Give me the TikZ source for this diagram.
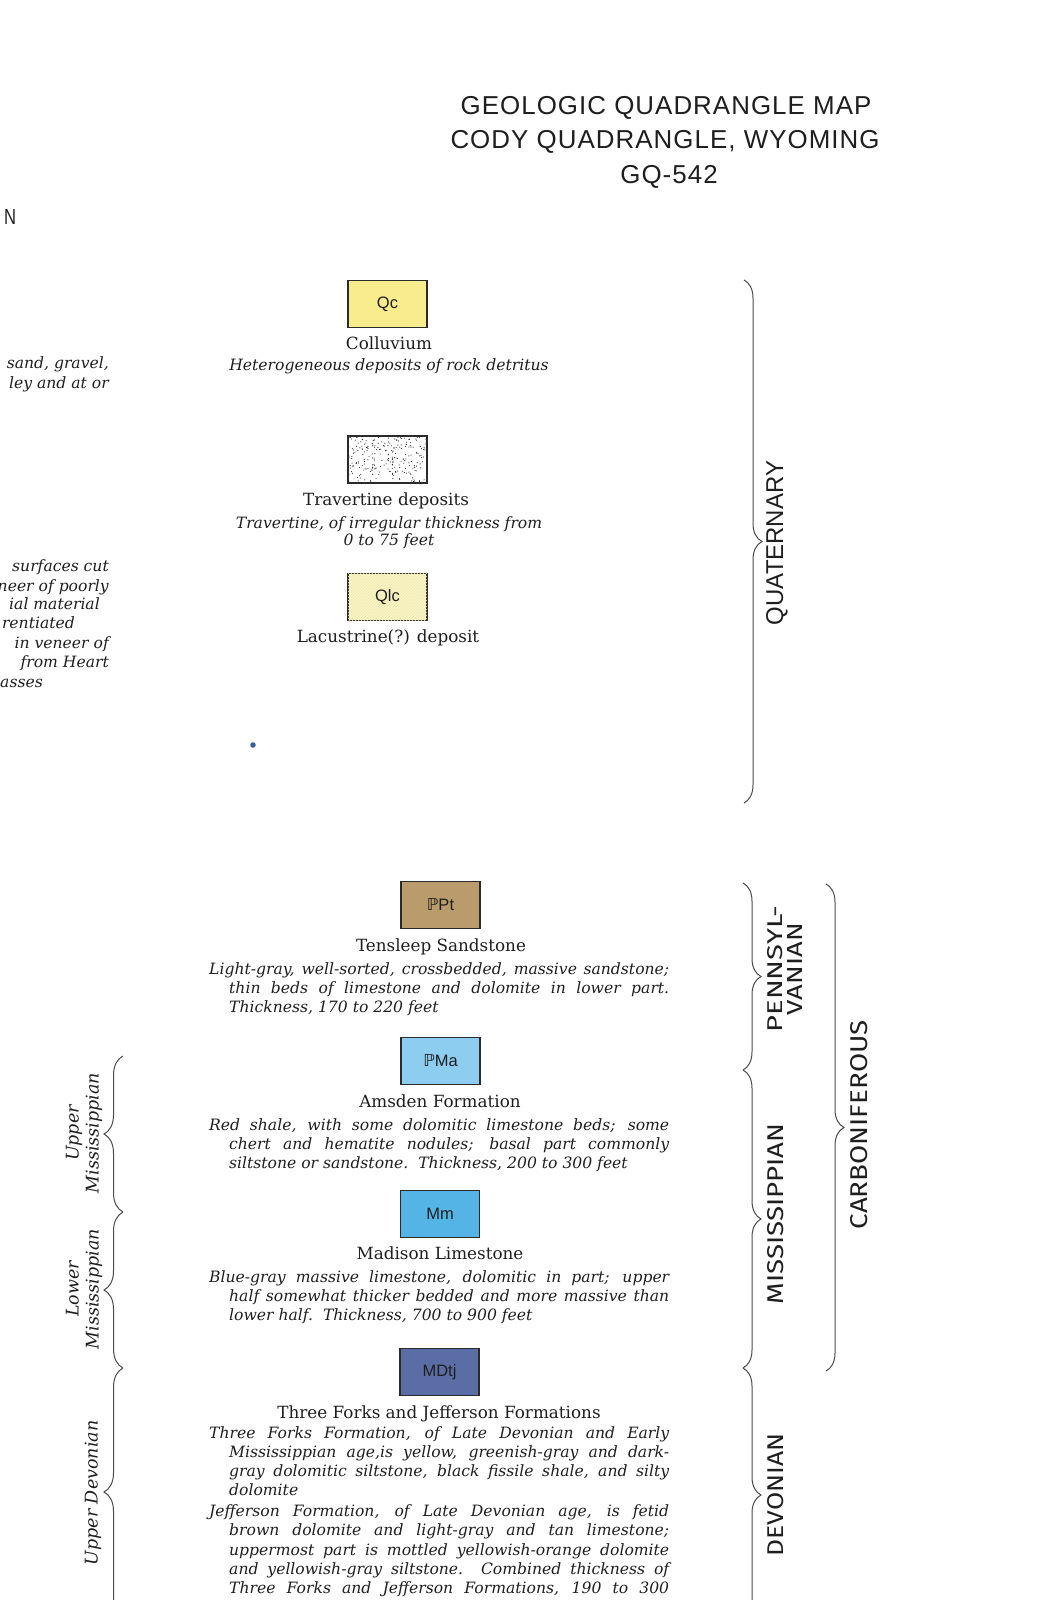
\documentclass[tikz,border=0pt]{standalone}
\usepackage{fontspec}
\setmainfont{DejaVu Serif}
\newfontfamily\lsans{Liberation Sans}
\newfontfamily\titlefont{Liberation Sans}[LetterSpace=4]
\newfontfamily\dinfont{Fira Sans}
\newfontfamily\djsans{DejaVu Sans}
\usetikzlibrary{decorations.pathreplacing,patterns}
\definecolor{ink}{HTML}{1E1E1E}
\definecolor{boxline}{HTML}{2A2A2A}
\definecolor{bracecol}{HTML}{4A4A4A}
\definecolor{qcfill}{HTML}{F8EC8C}
\definecolor{qlcfill}{HTML}{FAF6C6}
\definecolor{qlchatch}{HTML}{F0E7AE}
\definecolor{ptfill}{HTML}{BA9C6C}
\definecolor{pmafill}{HTML}{8CCDF0}
\definecolor{mmfill}{HTML}{55B4E6}
\definecolor{mdtjfill}{HTML}{5A6EA5}
\definecolor{speck}{HTML}{3A5FA0}
\tolerance=9999
\hyphenpenalty=10000
\exhyphenpenalty=10000
\newcommand{\hng}{\parindent=0pt\hangindent=20pt\hangafter=1\relax\strut}
\begin{document}
\begin{tikzpicture}[x=1pt,y=-1pt,
  unitbox/.style={draw=boxline, line width=1.1pt, minimum width=79pt, minimum height=47pt,
    inner sep=0pt, text=ink, font=\lsans\fontsize{16.5}{16.5}\selectfont},
  heading/.style={inner sep=0pt, anchor=base, text=ink, font=\fontsize{16.8}{20}\selectfont},
  desc/.style={inner sep=0pt, anchor=north west, text width=460pt, align=justify, text=ink,
    font=\itshape\fontsize{15.6}{19.2}\selectfont},
  cdesc/.style={inner sep=0pt, text=ink, font=\itshape\fontsize{15.6}{17.4}\selectfont},
  cutline/.style={inner sep=0pt, anchor=base east, text=ink, font=\itshape\fontsize{15.6}{17.4}\selectfont},
  titleline/.style={inner sep=0pt, anchor=base, text=ink, font=\titlefont\fontsize{25.9}{30}\selectfont},
  agelabel/.style={inner sep=0pt, rotate=90, text=ink, align=center, font=\itshape\fontsize{17.5}{20}\selectfont},
  perlabel/.style={inner sep=0pt, rotate=90, text=ink},
  rbrace/.style={draw=bracecol, line width=1pt, decorate, decoration={brace, amplitude=18pt}},
  lbrace/.style={draw=bracecol, line width=1pt, decorate, decoration={brace, amplitude=19pt}}
]
\useasboundingbox (0,0) rectangle (1037,1600);

% title
\node[titleline] (t1) at (666,115) {GEOLOGIC QUADRANGLE MAP};
\node[titleline] (t2) at (665,149) {CODY QUADRANGLE, WYOMING};
\node[titleline] (t3) at (669,183) {GQ-542};
\node[inner sep=0pt, anchor=south west, text=ink] (tn) at (4,225) {\resizebox{12pt}{15pt}{\lsans N}};

% cut-off text at left edge
\node[cutline] (c1) at (109,368) {sand, gravel,};
\node[cutline] (c2) at (109,388) {ley and at or};
\node[cutline] (c3) at (109,571) {surfaces cut};
\node[cutline] (c4) at (109,591) {neer of poorly};
\node[cutline] (c5) at (100,609) {ial material};
\node[cutline] (c6) at (75,628) {rentiated};
\node[cutline] (c7) at (109,648) {in veneer of};
\node[cutline] (c8) at (109,667) {from Heart};
\node[cutline] (c9) at (43,687) {asses};

% Quaternary units
\node[unitbox, fill=qcfill] (qc) at (387.5,304) {Qc};
\node[heading] (qch) at (389,349) {Colluvium};
\node[cdesc, anchor=base] (qcd) at (389,370) {Heterogeneous deposits of rock detritus};

\node[unitbox, fill=white] (qt) at (387.5,459.5) {};
\begin{scope}
  \clip (349.5,437.5) rectangle (425.5,481.5);
  \pgfmathsetseed{11}
  \foreach \i in {1,...,240}{
    \pgfmathsetmacro\dx{349+77*rnd}
    \pgfmathsetmacro\dy{437+45*rnd}
    \fill[ink] (\dx,\dy) circle (0.55);
  }
\end{scope}
\node[heading] (qth) at (386,505) {Travertine deposits};
\node[cdesc, anchor=north, align=center] (qtd) at (389,515.8) {\strut Travertine, of irregular thickness from\\0 to 75 feet};

\node[unitbox, fill=qlcfill, postaction={pattern=north east lines, pattern color=qlchatch}] (qlc) at (387.5,597) {};
\node[inner sep=0pt, text=ink, font=\lsans\fontsize{16.5}{16.5}\selectfont] (qlct) at (qlc.center) {Qlc};
\node[heading] (qlch) at (388,642) {Lacustrine(?) deposit};

\fill[speck] (253,745) circle (2.8);

% Paleozoic units
\node[unitbox, fill=ptfill] (pt) at (440.5,905) {{\djsans ℙ}Pt};
\node[heading] (pth) at (441,951) {Tensleep Sandstone};
\node[desc] (ptd) at (209,960.56) {\hng Light-gray, well-sorted, crossbedded, massive sandstone;\linebreak thin beds of limestone and dolomite in lower part.\linebreak Thickness, 170 to 220 feet\par};

\node[unitbox, fill=pmafill] (pma) at (440.5,1061) {{\djsans ℙ}Ma};
\node[heading] (pmah) at (440,1107) {Amsden Formation};
\node[desc] (pmad) at (209,1116.56) {\hng Red shale, with some dolomitic limestone beds; some\linebreak chert and hematite nodules; basal part commonly\linebreak siltstone or sandstone.\ \ Thickness, 200 to 300 feet\par};

\node[unitbox, fill=mmfill] (mm) at (440,1214) {Mm};
\node[heading] (mmh) at (440,1259) {Madison Limestone};
\node[desc] (mmd) at (209,1268.56) {\hng Blue-gray massive limestone, dolomitic in part; upper\linebreak half somewhat thicker bedded and more massive than\linebreak lower half.\ \ Thickness, 700 to 900 feet\par};

\node[unitbox, fill=mdtjfill] (mdtj) at (439.5,1372) {MDtj};
\node[heading] (mdtjh) at (439,1418) {Three Forks and Jefferson Formations};
\node[desc] (mdtjd) at (209,1424.56) {\hng Three Forks Formation, of Late Devonian and Early\linebreak Mississippian age,is yellow, greenish-gray and dark-\linebreak gray dolomitic siltstone, black fissile shale, and silty\linebreak dolomite\par\vspace{1.6pt}\hng Jefferson Formation, of Late Devonian age, is fetid\linebreak brown dolomite and light-gray and tan limestone;\linebreak uppermost part is mottled yellowish-orange dolomite\linebreak and yellowish-gray siltstone.\ \ Combined thickness of\linebreak Three Forks and Jefferson Formations, 190 to 300\parfillskip=0pt\par};

% right-hand braces (systems)
\coordinate (qa) at (744,280);   \coordinate (qb) at (744,803);
\coordinate (pa) at (743,883);   \coordinate (pb) at (743,1070);
\coordinate (ma) at (743,1070);  \coordinate (mb) at (743,1368);
\coordinate (da) at (743,1368);  \coordinate (db) at (743,1622);
\coordinate (ca) at (826,884);   \coordinate (cb) at (826,1371);
\draw[rbrace] (qa) -- (qb);
\draw[rbrace] (pa) -- (pb);
\draw[rbrace] (ma) -- (mb);
\draw[rbrace] (da) -- (db);
\draw[rbrace] (ca) -- (cb);
\node[perlabel] (lq) at (777,543) {\resizebox{164pt}{17pt}{\lsans QUATERNARY}};
\node[perlabel, align=center, font=\dinfont\fontsize{20}{20}\selectfont] (lp) at (784.5,969) {\resizebox{127pt}{15pt}{PENNSYL-}\\\resizebox{92pt}{15pt}{VANIAN}};
\node[perlabel] (lm) at (776,1214) {\resizebox{181pt}{16pt}{\dinfont MISSISSIPPIAN}};
\node[perlabel] (ld) at (776,1495) {\resizebox{123pt}{16pt}{\dinfont DEVONIAN}};
\node[perlabel] (lc) at (859,1125) {\resizebox{209pt}{17pt}{\dinfont CARBONIFEROUS}};

% left-hand braces (series)
\coordinate (ua) at (123,1212);  \coordinate (ub) at (123,1056);
\coordinate (la) at (123,1368);  \coordinate (lb) at (123,1212);
\coordinate (va) at (123,1616);  \coordinate (vb) at (123,1368);
\draw[lbrace] (ua) -- (ub);
\draw[lbrace] (la) -- (lb);
\draw[lbrace] (va) -- (vb);
\node[agelabel] (au) at (84,1133) {Upper\\Mississippian};
\node[agelabel] (al) at (84,1289) {Lower\\Mississippian};
\node[agelabel] (ad) at (93,1493) {Upper Devonian};
\end{tikzpicture}
\end{document}
